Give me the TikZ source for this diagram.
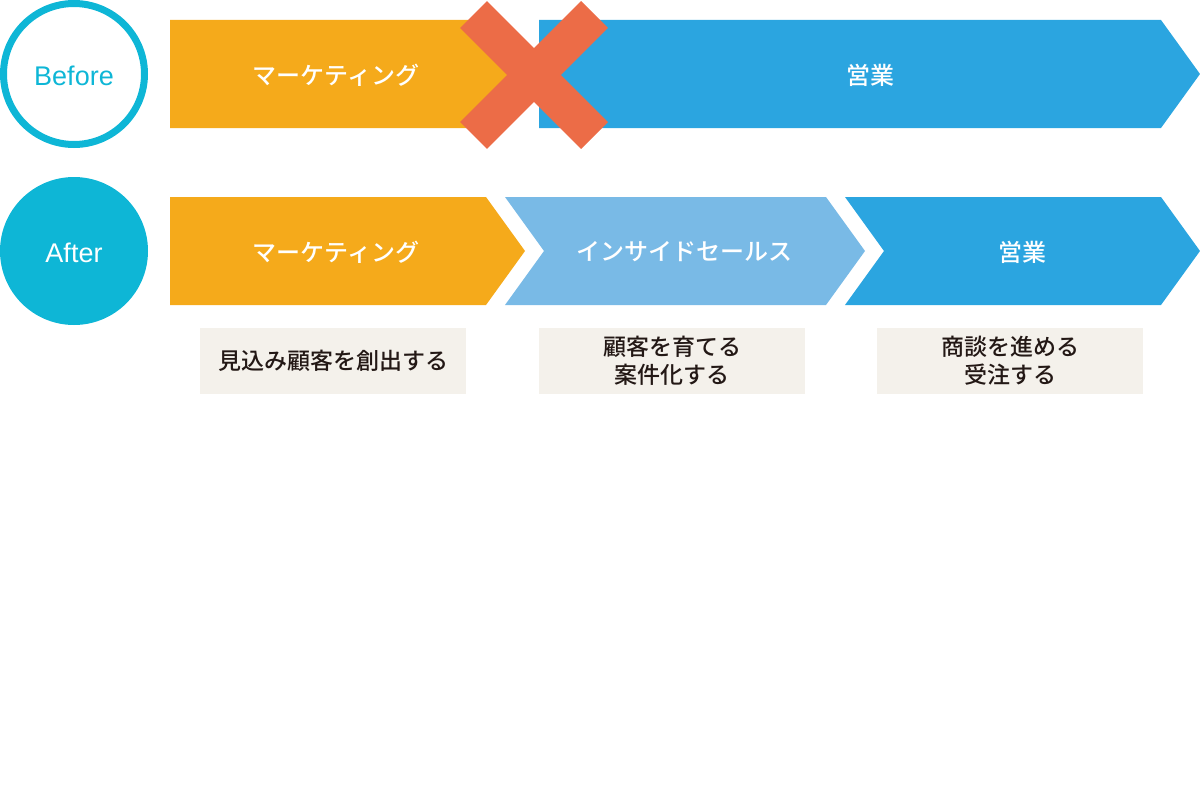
\documentclass[tikz,border=0pt]{standalone}
\usepackage{fontspec}
\usepackage{xcolor}
\usepackage{tikz}
\usetikzlibrary{positioning, calc}
\setmainfont{Liberation Sans}
\newfontfamily\jpfont{Noto Sans CJK JP Medium}
\definecolor{stagecyan}{HTML}{0EB6D6}
\definecolor{stageorange}{HTML}{F5AA1B}
\definecolor{stageblue}{HTML}{2BA5E0}
\definecolor{stagelight}{HTML}{79BAE6}
\definecolor{crossred}{HTML}{EC6C47}
\definecolor{notebg}{HTML}{F4F1EB}
\definecolor{notetext}{HTML}{231815}

\tikzset{
  barlabel/.style={text=white, font=\jpfont\fontsize{24}{28}\selectfont},
  notebox/.style={fill=notebg, minimum width=266pt, minimum height=66pt, inner sep=0pt,
    align=center, text=notetext, font=\jpfont\fontsize{23}{28}\selectfont},
}

\begin{document}
\begin{tikzpicture}[x=1pt, y=-1pt]
  \useasboundingbox (0,0) rectangle (1200,800);
  % before / after badges
  \draw[stagecyan, line width=7pt] (74,74) circle[radius=70.5];
  \node[text=stagecyan, font=\fontsize{27}{30}\selectfont] (before) at (74,76) {Before};
  \fill[stagecyan] (74,251) circle[radius=74];
  \node[text=white, font=\fontsize{27}{30}\selectfont] (after) at (74,253) {After};

  % before row
  \fill[stageorange] (170,20) -- (486,20) -- (525,74) -- (486,128) -- (170,128) -- cycle;
  \fill[stageblue] (539,20) -- (1161,20) -- (1200,74) -- (1161,128) -- (539,128) -- cycle;
  \node[barlabel] (mkt0) at (336,75) {マーケティング};
  \node[barlabel] (sales0) at (870,75) {営業};
  \draw[crossred, line width=38pt] (473.5,14.5) -- (594.5,135.5);
  \draw[crossred, line width=38pt] (594.5,14.5) -- (473.5,135.5);

  % after row
  \fill[stageorange] (170,197) -- (486,197) -- (525,251) -- (486,305) -- (170,305) -- cycle;
  \fill[stagelight] (505,197) -- (826,197) -- (865,251) -- (826,305) -- (505,305) -- (544,251) -- cycle;
  \fill[stageblue] (845,197) -- (1161,197) -- (1200,251) -- (1161,305) -- (845,305) -- (884,251) -- cycle;
  \node[barlabel] (mkt) at (336,252) {マーケティング};
  \node[barlabel] (inside) at (684,252) {インサイドセールス};
  \node[barlabel] (sales) at (1022,252) {営業};

  % roles
  \node[notebox] (role1) at (333,361) {見込み顧客を創出する};
  \node[notebox] (role2) at (672,361) {顧客を育てる\\案件化する};
  \node[notebox] (role3) at (1010,361) {商談を進める\\受注する};
\end{tikzpicture}
\end{document}
